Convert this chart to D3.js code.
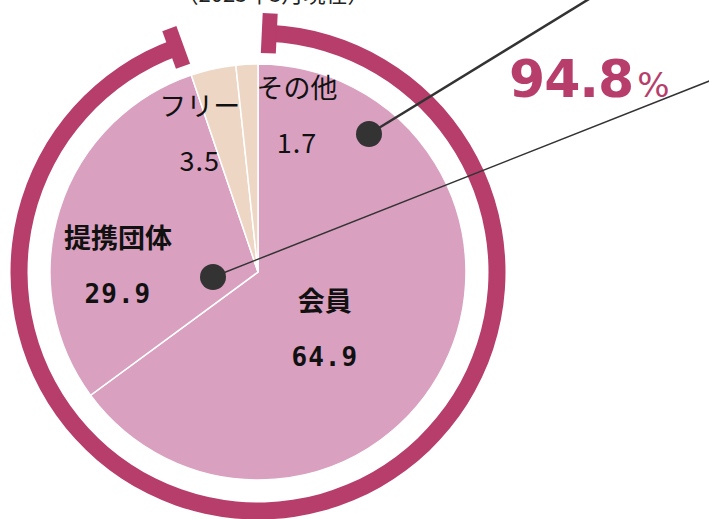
<!DOCTYPE html>
<html>
<head>
<meta charset="utf-8">
<script src="https://cdn.jsdelivr.net/npm/d3@7"></script>
<style>
  body { margin: 0; background: #fff; }
  svg { display: block; }
</style>
</head>
<body>
<svg id="chart"></svg>
<script>
// data
const categories = ['会員', '提携団体', 'フリー', 'その他'];
const values = [64.9, 29.9, 3.5, 1.7];
const sliceColors = ['#d9a0c0', '#d9a0c0', '#edd7c4', '#edd7c4'];
const boldLabels = [true, true, false, false];
const highlightShare = 94.8;   // 会員 + 提携団体
const captionText = '（2023年3月現在）';

const width = 709, height = 519;
const cx = 258, cy = 272;
const pieRadius = 208;
const ringRadius = 239;
const accent = '#b73d6b';

const svg = d3.select('#chart')
  .attr('width', width)
  .attr('height', height);

// caption, cut off at the top edge like the source
svg.append('text')
  .attr('x', 273).attr('y', 2)
  .attr('text-anchor', 'middle')
  .style('font-family', '"Noto Sans CJK JP"')
  .style('font-size', '22px')
  .attr('fill', '#222')
  .text(captionText);

const g = svg.append('g').attr('transform', `translate(${cx},${cy})`);

const pie = d3.pie().sort(null).value(d => d);
const arcs = pie(values);

const arc = d3.arc().innerRadius(0).outerRadius(pieRadius);

g.selectAll('path.slice')
  .data(arcs)
  .enter()
  .append('path')
  .attr('class', 'slice')
  .attr('d', arc)
  .attr('fill', (d, i) => sliceColors[i])
  .attr('stroke', '#fff')
  .attr('stroke-width', 1.5);

// labels: centroid of a label arc plus a hand nudge (origin = name baseline)
const labelArc = d3.arc().innerRadius(150).outerRadius(150);
const nudges = [[-67, -29], [3, 21], [-26, -10], [47, -24]];

const labels = g.selectAll('g.label')
  .data(arcs)
  .enter()
  .append('g')
  .attr('class', 'label')
  .attr('transform', (d, i) => {
    const c = labelArc.centroid(d);
    return `translate(${c[0] + nudges[i][0]},${c[1] + nudges[i][1]})`;
  });

labels.append('text')
  .attr('y', 0)
  .attr('text-anchor', 'middle')
  .style('font-family', '"Noto Sans CJK JP"')
  .style('font-size', '27px')
  .style('font-weight', (d, i) => boldLabels[i] ? 'bold' : 'normal')
  .attr('fill', '#111')
  .text((d, i) => categories[i]);

labels.append('text')
  .attr('y', 55)
  .attr('text-anchor', 'middle')
  .style('font-family', (d, i) => boldLabels[i] ? '"DejaVu Sans Mono"' : '"Noto Sans CJK JP"')
  .style('font-size', (d, i) => boldLabels[i] ? '26px' : '27px')
  .style('font-weight', (d, i) => boldLabels[i] ? 'bold' : 'normal')
  .style('letter-spacing', '1px')
  .attr('fill', '#111')
  .text(d => d.data.toFixed(1));

// bracket ring over 会員 + 提携団体
const toRad = Math.PI / 180;
const ringStart = 2.7 * toRad;
const ringEnd = highlightShare / 100 * 2 * Math.PI - 1.3 * toRad;

const ringArc = d3.arc()
  .innerRadius(ringRadius - 8.5)
  .outerRadius(ringRadius + 8.5)
  .startAngle(ringStart)
  .endAngle(ringEnd);

g.append('path')
  .attr('d', ringArc())
  .attr('fill', accent);

g.selectAll('rect.cap')
  .data([ringStart, ringEnd])
  .enter()
  .append('rect')
  .attr('class', 'cap')
  .attr('x', -7.5)
  .attr('y', -ringRadius - 20)
  .attr('width', 15)
  .attr('height', 40)
  .attr('fill', accent)
  .attr('transform', a => `rotate(${a / toRad})`);

// leader lines with dots
const leaders = [
  {from: [369, 134], to: [620, -20], w: 2.5},
  {from: [213, 277], to: [760, 61], w: 1.5}
];

svg.selectAll('line.leader')
  .data(leaders)
  .enter()
  .append('line')
  .attr('class', 'leader')
  .attr('x1', d => d.from[0]).attr('y1', d => d.from[1])
  .attr('x2', d => d.to[0]).attr('y2', d => d.to[1])
  .attr('stroke', '#333')
  .attr('stroke-width', d => d.w);

svg.selectAll('circle.dot')
  .data(leaders)
  .enter()
  .append('circle')
  .attr('class', 'dot')
  .attr('cx', d => d.from[0]).attr('cy', d => d.from[1])
  .attr('r', 13)
  .attr('fill', '#333');

// big share figure
const big = svg.append('text')
  .attr('x', 509).attr('y', 97)
  .attr('fill', accent);

big.append('tspan')
  .style('font-family', '"DejaVu Sans"')
  .style('font-weight', 'bold')
  .style('font-size', '52px')
  .style('letter-spacing', '-1px')
  .text(highlightShare.toFixed(1));

big.append('tspan')
  .attr('dx', 4)
  .style('font-family', '"DejaVu Sans"')
  .style('font-size', '34px')
  .text('%');
</script>
</body>
</html>
